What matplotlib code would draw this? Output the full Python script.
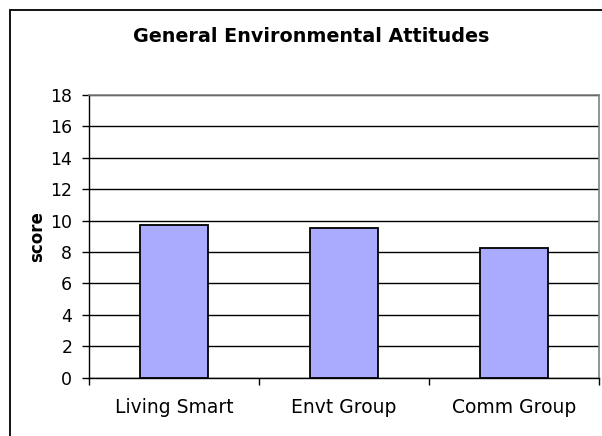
import matplotlib
matplotlib.use("Agg")
import matplotlib.pyplot as plt
from matplotlib.patches import Rectangle

categories = ["Living Smart", "Envt Group", "Comm Group"]
scores = [9.74, 9.51, 8.23]
yticks = [0, 2, 4, 6, 8, 10, 12, 14, 16, 18]

W, H = 602, 436
fig = plt.figure(figsize=(W / 100, H / 100), dpi=100)
plt.rcParams['font.family'] = ['DejaVu Sans']

# outer chart border (left and top visible)
fig.patches.append(Rectangle((10 / W, -0.05), 1.2, 1 - 10 / H + 0.05,
                             transform=fig.transFigure, fill=False,
                             edgecolor='black', linewidth=1.3))

ax = fig.add_axes([89 / W, 1 - 377.5 / H, (599 - 89) / W, (377.5 - 95) / H])
x = list(range(len(categories)))
ax.bar(x, scores, width=0.4, color='#AAAAFF', edgecolor='black', linewidth=1.3, zorder=3)

ax.set_xlim(-0.5, len(categories) - 0.5)
ax.set_ylim(0, 18)
ax.set_yticks(yticks)
ax.set_yticklabels([str(v) for v in yticks], fontsize=12.5)
ax.yaxis.grid(True, color='black', linewidth=1.0, zorder=0)
ax.set_axisbelow(True)

ax.set_xticks([i - 0.5 for i in range(len(categories) + 1)], minor=False)
ax.set_xticklabels([])
ax.set_xticks(x, minor=True)
ax.set_xticklabels(categories, minor=True, fontsize=13.5)
ax.tick_params(axis='x', which='minor', length=0, pad=15)
ax.tick_params(axis='x', which='major', length=5, direction='out', width=1, color='black')
ax.tick_params(axis='y', length=5, direction='out', width=1, pad=7)

for s in ['top', 'right']:
    ax.spines[s].set_color('#808080')
    ax.spines[s].set_linewidth(1.2)
for s in ['left', 'bottom']:
    ax.spines[s].set_color('black')
    ax.spines[s].set_linewidth(1.0)

ax.set_ylabel('score', fontsize=12, fontweight='bold')
ax.yaxis.set_label_coords((37 - 89) / (599 - 89), 0.5)
ax.yaxis.label.set_va('center')
fig.text(311 / W, 1 - 36 / H, 'General Environmental Attitudes', fontsize=13.8,
         fontweight='bold', ha='center', va='center')

fig.savefig('out.png', dpi=100)
